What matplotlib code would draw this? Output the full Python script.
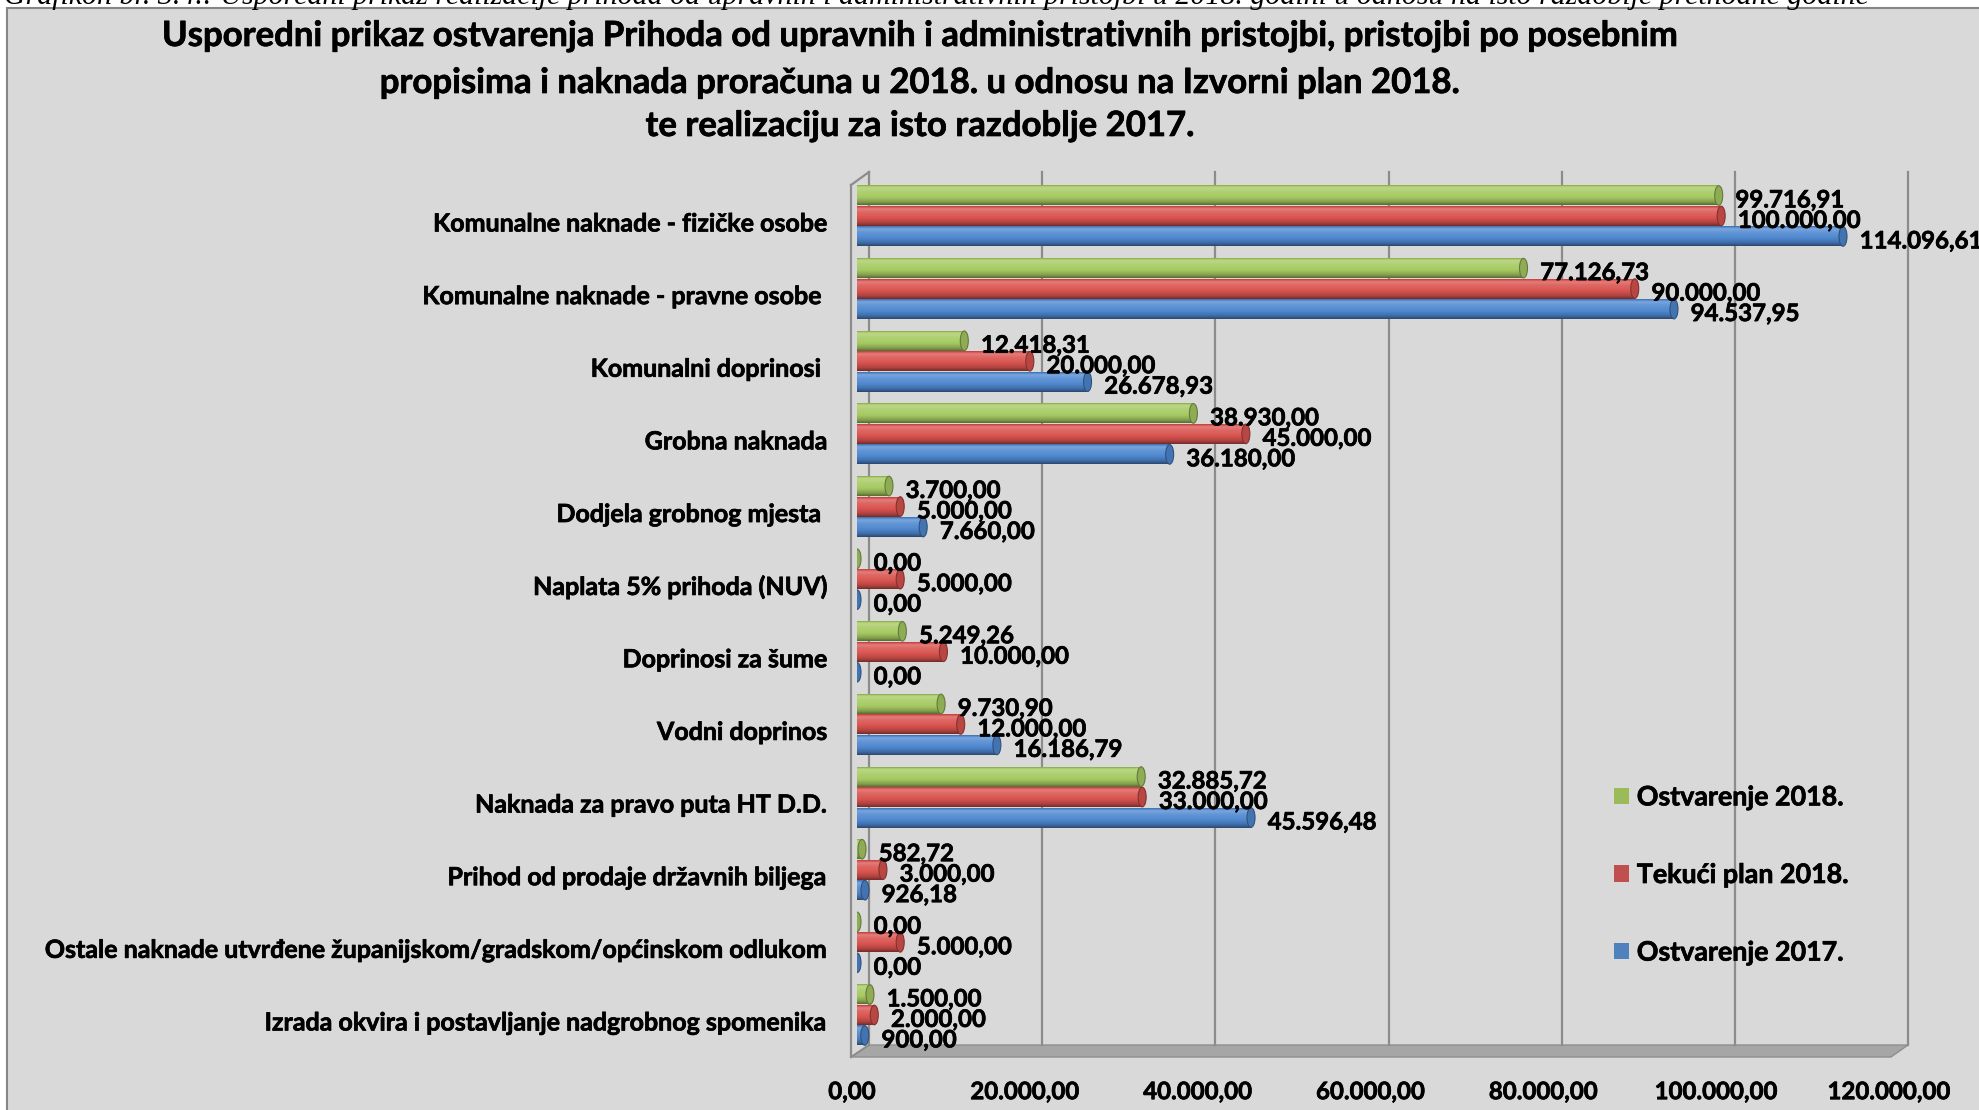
import numpy as np
import matplotlib
matplotlib.use("Agg")
import matplotlib.pyplot as plt
from matplotlib import transforms
from matplotlib import patheffects as pe
from matplotlib.patches import Ellipse, Polygon, Rectangle
from matplotlib.colors import to_rgb

plt.rcParams['font.family'] = ['Lato', 'DejaVu Sans']
plt.rcParams['font.weight'] = 'bold'

# podaci
kategorije = [
    "Komunalne naknade - fizičke osobe",
    "Komunalne naknade - pravne osobe ",
    "Komunalni doprinosi ",
    "Grobna naknada",
    "Dodjela grobnog mjesta ",
    "Naplata 5% prihoda (NUV)",
    "Doprinosi za šume",
    "Vodni doprinos",
    "Naknada za pravo puta HT D.D.",
    "Prihod od prodaje državnih biljega",
    "Ostale naknade utvrđene županijskom/gradskom/općinskom odlukom",
    "Izrada okvira i postavljanje nadgrobnog spomenika",
]
ostvarenje_2018 = [99716.91, 77126.73, 12418.31, 38930.00, 3700.00, 0.00,
                   5249.26, 9730.90, 32885.72, 582.72, 0.00, 1500.00]
plan_2018 = [100000.00, 90000.00, 20000.00, 45000.00, 5000.00, 5000.00,
             10000.00, 12000.00, 33000.00, 3000.00, 5000.00, 2000.00]
ostvarenje_2017 = [114096.61, 94537.95, 26678.93, 36180.00, 7660.00, 0.00,
                   0.00, 16186.79, 45596.48, 926.18, 0.00, 900.00]
serije = ["Ostvarenje 2018.", "Tekući plan 2018.", "Ostvarenje 2017."]
x_ticks = [0, 20000, 40000, 60000, 80000, 100000, 120000]

boje = ['#9BBB59', '#C0504D', '#4F81BD']
svijetle = ['#A6CA62', '#D9534F', '#4F88D0']

W, H = 1979, 1110
debelo = [pe.withStroke(linewidth=0.5, foreground='black')]


def fxy(px, py):
    return (px / W, 1 - py / H)


def hr(v):
    s = f"{v:,.2f}"
    return s.replace(',', 'X').replace('.', ',').replace('X', '.')


def gradijent(c):
    c = np.array(to_rgb(c))
    stops_t = [0.0, 0.12, 0.3, 0.6, 0.85, 1.0]
    stops_m = [-0.15, 0.25, 0.12, 0.0, -0.2, -0.45]
    t = np.linspace(0, 1, 24)
    m = np.interp(t, stops_t, stops_m)
    rows = []
    for mm in m:
        if mm >= 0:
            rows.append(c + (1 - c) * mm)
        else:
            rows.append(c * (1 + mm))
    arr = np.array(rows)[:, None, :]
    return np.repeat(arr, 2, axis=1)


fig = plt.figure(figsize=(W / 100, H / 100), dpi=100)
fig.patch.set_facecolor('white')

# okvir grafikona
fig.add_artist(Rectangle(fxy(7, 1200), (W + 20) / W, 1192 / H, transform=fig.transFigure,
                         facecolor='#D9D9D9', edgecolor='#868686', lw=1.5, zorder=-5))

# odsječeni naslov iznad (u izvorniku je prerezan rubom)
fig.text(0.002, 1 - 4 / H, "Grafikon br. 3.4.: Usporedni prikaz realizacije prihoda od upravnih i administrativnih "
         "pristojbi u 2018. godini u odnosu na isto razdoblje prethodne godine",
         family=['Liberation Serif'], style='italic', fontweight='normal', fontsize=21.5,
         va='baseline', ha='left', zorder=-4)

naslov = ["Usporedni prikaz ostvarenja Prihoda od upravnih i administrativnih pristojbi, pristojbi po posebnim",
          "propisima i naknada proračuna u 2018. u odnosu na Izvorni plan 2018.",
          "te realizaciju za isto razdoblje 2017."]
for txt, py in zip(naslov, [36, 83, 126]):
    fig.text(*fxy(920, py), txt, ha='center', va='center', fontsize=25, fontweight='bold',
             path_effects=debelo)

ax = fig.add_axes([857 / W, 1 - 1051 / H, (1894 - 857) / W, (1051 - 178) / H])
ax.patch.set_visible(False)
for s in ax.spines.values():
    s.set_visible(False)

n = len(kategorije)
y = np.arange(n)
h = 0.275
off = 0.282
vrijednosti = [ostvarenje_2018, plan_2018, ostvarenje_2017]
pomaci = [-off, 0, off]

ax.set_xlim(0, 120000)
ax.set_ylim(n - 0.504, -0.523)

cap_w = 8 / 1037 * 120000
kontejneri = []
for vals, d, c, cs, lab in zip(vrijednosti, pomaci, boje, svijetle, serije):
    bars = ax.barh(y + d, vals, height=h, color=c, label=lab, zorder=2)
    kontejneri.append(bars)
    g = gradijent(cs)
    cc = np.array(to_rgb(cs))
    for p, v in zip(bars.patches, vals):
        x0, y0 = p.get_x(), p.get_y()
        if v > 0:
            ax.imshow(g, extent=(x0, x0 + v, y0 + h, y0), origin='upper', aspect='auto',
                      interpolation='bilinear', zorder=2.1)
        ax.add_patch(Ellipse((v, y0 + h / 2), cap_w, h * 0.98, facecolor=cc * 0.85,
                             edgecolor=cc * 0.6, lw=0.8, zorder=2.2))
        ax.annotate(hr(v), (v, y0 + h / 2), xytext=(12, -3.2), textcoords='offset points',
                    ha='left', va='center', fontsize=17.3, fontweight='bold', zorder=3,
                    path_effects=debelo)

ax.set_xlim(0, 120000)
ax.set_ylim(n - 0.504, -0.523)
ax.set_aspect('auto')

# 3D zidovi, pod i mreža
x0p = ax.transData.transform((0, 0))[0]
x1p = ax.transData.transform((120000, 0))[0]
siva = '#8C8C8C'
ax.add_patch(Polygon([fxy(x0p - 6, 1057), fxy(x0p + 12, 1045), fxy(x1p + 14, 1045), fxy(x1p - 3, 1057)],
                     closed=True, transform=fig.transFigure, facecolor='#A6A6A6', edgecolor='#8F8F8F',
                     lw=1, clip_on=False, zorder=0.5))
for v in x_ticks:
    xp = ax.transData.transform((v, 0))[0] + 12 + 2 * v / 120000
    ax.plot([xp / W, xp / W], [fxy(0, 172)[1], fxy(0, 1045)[1]], transform=fig.transFigure,
            color=siva, lw=1.6, clip_on=False, zorder=0.8)
ax.plot([fxy(x0p - 6, 0)[0]] * 2, [fxy(0, 185)[1], fxy(0, 1057)[1]], transform=fig.transFigure,
        color=siva, lw=1.6, clip_on=False, zorder=0.8)
ax.plot([fxy(x0p - 6, 0)[0], fxy(x0p + 12, 0)[0]], [fxy(0, 185)[1], fxy(0, 172)[1]],
        transform=fig.transFigure, color=siva, lw=1.6, clip_on=False, zorder=0.8)
ax.plot([fxy(x0p - 6, 0)[0], fxy(x0p + 12, 0)[0]], [fxy(0, 1057)[1], fxy(0, 1045)[1]],
        transform=fig.transFigure, color=siva, lw=1.4, clip_on=False, zorder=0.8)

ax.set_yticks(y)
ax.set_yticklabels(kategorije, fontsize=18, fontweight='bold')
ax.set_xticks(x_ticks)
ax.set_xticklabels([hr(v) for v in x_ticks], fontsize=17.3, fontweight='bold')
ax.tick_params(axis='y', length=0, pad=21)
ax.tick_params(axis='x', length=0, pad=21)
pomak_y = transforms.ScaledTranslation(0, -6 / 100, fig.dpi_scale_trans)
for t in ax.get_yticklabels():
    t.set_transform(t.get_transform() + pomak_y)
    t.set_path_effects(debelo)
pomak_x = transforms.ScaledTranslation(-5 / 100, 0, fig.dpi_scale_trans)
for t in ax.get_xticklabels():
    t.set_transform(t.get_transform() + pomak_x)
    t.set_path_effects(debelo)

leg = fig.legend(handles=kontejneri, labels=serije, loc='center left',
                 bbox_to_anchor=fxy(1614, 875), bbox_transform=fig.transFigure,
                 frameon=False, fontsize=19.3, handlelength=0.55, handleheight=0.55,
                 handletextpad=0.3, labelspacing=2.0, borderpad=0, borderaxespad=0)
for t in leg.get_texts():
    t.set_path_effects(debelo)

fig.savefig('out.png', dpi=100, facecolor=fig.get_facecolor())
